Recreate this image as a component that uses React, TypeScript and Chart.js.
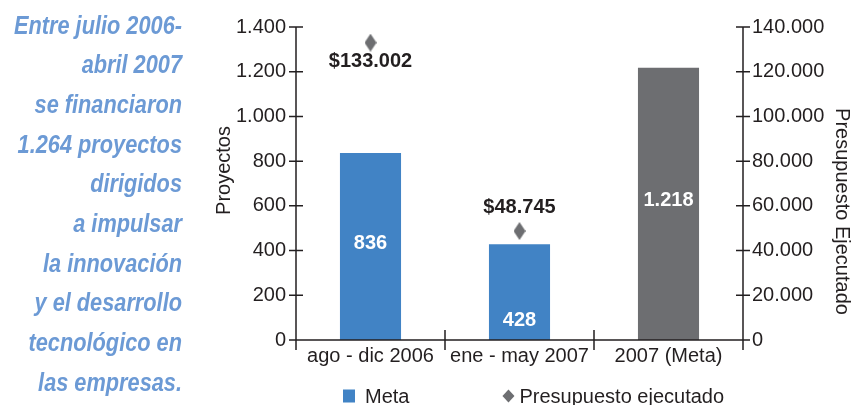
import React, { useEffect, useRef } from "react";
import { Chart, registerables } from "chart.js";

Chart.register(...registerables);

// ---- data ----
const categories = ["ago - dic 2006", "ene - may 2007", "2007 (Meta)"];
const projectValues = [836, 428, 1218];
const budgetValues: (number | null)[] = [133002, 48745, null];
const barColors = ["#4183c5", "#4183c5", "#6d6e71"];
const projectLabel = "Meta";
const budgetLabel = "Presupuesto ejecutado";
const leftTitle = "Proyectos";
const rightTitle = "Presupuesto Ejecutado";
const projectMax = 1400;
const projectStep = 200;
const budgetMax = 140000;
const budgetStep = 20000;
const sideNote = [
  "Entre julio 2006-",
  "abril 2007",
  "se financiaron",
  "1.264 proyectos",
  "dirigidos",
  "a impulsar",
  "la innovación",
  "y el desarrollo",
  "tecnológico en",
  "las empresas.",
];

const FONT = "'Liberation Sans', Arial, sans-serif";
const INK = "#231f20";
const GRAY = "#6d6e71";

const fmt = (v: number) =>
  Math.round(v)
    .toString()
    .replace(/\B(?=(\d{3})+(?!\d))/g, ".");

function makeDiamond(w: number, h: number, color: string) {
  const c = document.createElement("canvas");
  c.width = w;
  c.height = h;
  const g = c.getContext("2d")!;
  g.fillStyle = color;
  g.beginPath();
  g.moveTo(w / 2, 0);
  g.lineTo(w, h / 2);
  g.lineTo(w / 2, h);
  g.lineTo(0, h / 2);
  g.closePath();
  g.fill();
  return c;
}

const decorPlugin = {
  id: "decor",
  afterDraw(chart: any) {
    const { ctx, chartArea, scales } = chart;
    const { left, right, top, bottom } = chartArea;
    const x = scales.x;
    const y = scales.y;
    const y2 = scales.y2;
    ctx.save();
    ctx.strokeStyle = INK;
    ctx.lineWidth = 1.5;
    ctx.beginPath();
    // vertical axes
    ctx.moveTo(left, y.getPixelForValue(projectMax));
    ctx.lineTo(left, bottom + 10);
    ctx.moveTo(right, y2.getPixelForValue(budgetMax));
    ctx.lineTo(right, bottom + 10);
    // x axis
    ctx.moveTo(left - 7, bottom);
    ctx.lineTo(right + 7, bottom);
    // cross ticks
    y.ticks.forEach((t: any) => {
      const py = y.getPixelForValue(t.value);
      ctx.moveTo(left - 7, py);
      ctx.lineTo(left + 7, py);
    });
    y2.ticks.forEach((t: any) => {
      const py = y2.getPixelForValue(t.value);
      ctx.moveTo(right - 7, py);
      ctx.lineTo(right + 7, py);
    });
    // category separators
    for (let i = 0; i < categories.length - 1; i++) {
      const px = (x.getPixelForValue(i) + x.getPixelForValue(i + 1)) / 2;
      ctx.moveTo(px, bottom - 10);
      ctx.lineTo(px, bottom + 10);
    }
    ctx.stroke();

    // bar value labels
    const barMeta = chart.getDatasetMeta(0);
    ctx.font = `bold 20px ${FONT}`;
    ctx.fillStyle = "#ffffff";
    ctx.textAlign = "center";
    ctx.textBaseline = "middle";
    barMeta.data.forEach((bar: any, i: number) => {
      const h = bar.base - bar.y;
      const ly = h < 120 ? bar.base - 20 : (bar.y + bar.base) / 2 - 3;
      ctx.fillText(fmt(projectValues[i]), bar.x, ly);
    });

    // budget labels
    const ptMeta = chart.getDatasetMeta(1);
    ctx.fillStyle = INK;
    ptMeta.data.forEach((pt: any, i: number) => {
      const v = budgetValues[i];
      if (v == null) return;
      const ly = pt.y - top < 40 ? pt.y + 19 : pt.y - 24;
      ctx.fillText("$" + fmt(v), pt.x, ly);
    });

    // axis titles
    ctx.font = `20px ${FONT}`;
    ctx.fillStyle = INK;
    ctx.save();
    ctx.translate(left - 72, (top + bottom) / 2 - 13);
    ctx.rotate(-Math.PI / 2);
    ctx.fillText(leftTitle, 0, 0);
    ctx.restore();
    ctx.save();
    ctx.translate(chart.width - 11, (top + bottom) / 2 + 28);
    ctx.rotate(Math.PI / 2);
    ctx.fillText(rightTitle, 0, 0);
    ctx.restore();

    // legend
    const ly = 396;
    ctx.font = `20px ${FONT}`;
    ctx.textAlign = "left";
    let cx = left + 47;
    ctx.fillStyle = barColors[0];
    ctx.fillRect(cx, ly - 6.5, 12, 13);
    ctx.fillStyle = INK;
    ctx.fillText(projectLabel, cx + 22, ly + 1);
    cx += 22 + ctx.measureText(projectLabel).width + 93;
    ctx.fillStyle = GRAY;
    ctx.beginPath();
    ctx.moveTo(cx + 6, ly - 6.5);
    ctx.lineTo(cx + 12, ly);
    ctx.lineTo(cx + 6, ly + 6.5);
    ctx.lineTo(cx, ly);
    ctx.closePath();
    ctx.fill();
    ctx.fillStyle = INK;
    ctx.fillText(budgetLabel, cx + 17, ly + 1);
    ctx.restore();
  },
};

export default function App() {
  const ref = useRef<HTMLCanvasElement | null>(null);
  useEffect(() => {
    if (!ref.current) return;
    const diamond = makeDiamond(12, 18, GRAY);
    const tickFont = { family: FONT, size: 20 };
    const chart = new Chart(ref.current, {
      type: "bar",
      data: {
        labels: categories,
        datasets: [
          {
            type: "bar",
            label: projectLabel,
            data: projectValues,
            backgroundColor: barColors,
            yAxisID: "y",
            categoryPercentage: 1,
            barPercentage: 0.41,
            order: 2,
          },
          {
            type: "line",
            label: budgetLabel,
            data: budgetValues,
            yAxisID: "y2",
            showLine: false,
            pointStyle: diamond as any,
            backgroundColor: GRAY,
            borderColor: GRAY,
            order: 1,
          } as any,
        ],
      },
      options: {
        responsive: false,
        animation: false,
        layout: { padding: { left: 190, top: 27, right: 0, bottom: 0 } },
        plugins: { legend: { display: false }, tooltip: { enabled: false } },
        scales: {
          x: {
            grid: { display: false, drawTicks: false },
            border: { display: false },
            ticks: { font: tickFont, color: INK, padding: 4, maxRotation: 0, autoSkip: false },
            afterFit: (s: any) => {
              s.height = 65;
            },
          },
          y: {
            position: "left",
            min: 0,
            max: projectMax,
            grid: { display: false, drawTicks: false },
            border: { display: false },
            ticks: {
              stepSize: projectStep,
              font: tickFont,
              color: INK,
              padding: 10,
              callback: (v: any) => fmt(Number(v)),
            },
            afterFit: (s: any) => {
              s.width = 106;
            },
          },
          y2: {
            position: "right",
            min: 0,
            max: budgetMax,
            grid: { display: false, drawTicks: false },
            border: { display: false },
            ticks: {
              stepSize: budgetStep,
              font: tickFont,
              color: INK,
              padding: 9,
              callback: (v: any) => fmt(Number(v)),
            },
            afterFit: (s: any) => {
              s.width = 110;
            },
          },
        },
      },
      plugins: [decorPlugin],
    });
    return () => chart.destroy();
  }, []);

  return (
    <div style={{ position: "fixed", left: 0, top: 0, width: 853, height: 405, background: "#fff" }}>
      <div
        style={{
          position: "absolute",
          left: -58,
          top: 5.5,
          width: 240,
          textAlign: "right",
          fontFamily: FONT,
          fontWeight: "bold",
          fontStyle: "italic",
          fontSize: 25,
          lineHeight: "39.7px",
          color: "#6c9ad5",
          whiteSpace: "nowrap",
          transform: "scaleX(0.87)",
          transformOrigin: "right top",
        }}
      >
        {sideNote.map((l, i) => (
          <div key={i}>{l}</div>
        ))}
      </div>
      <canvas ref={ref} width={853} height={405} style={{ position: "absolute", left: 0, top: 0 }} />
    </div>
  );
}
